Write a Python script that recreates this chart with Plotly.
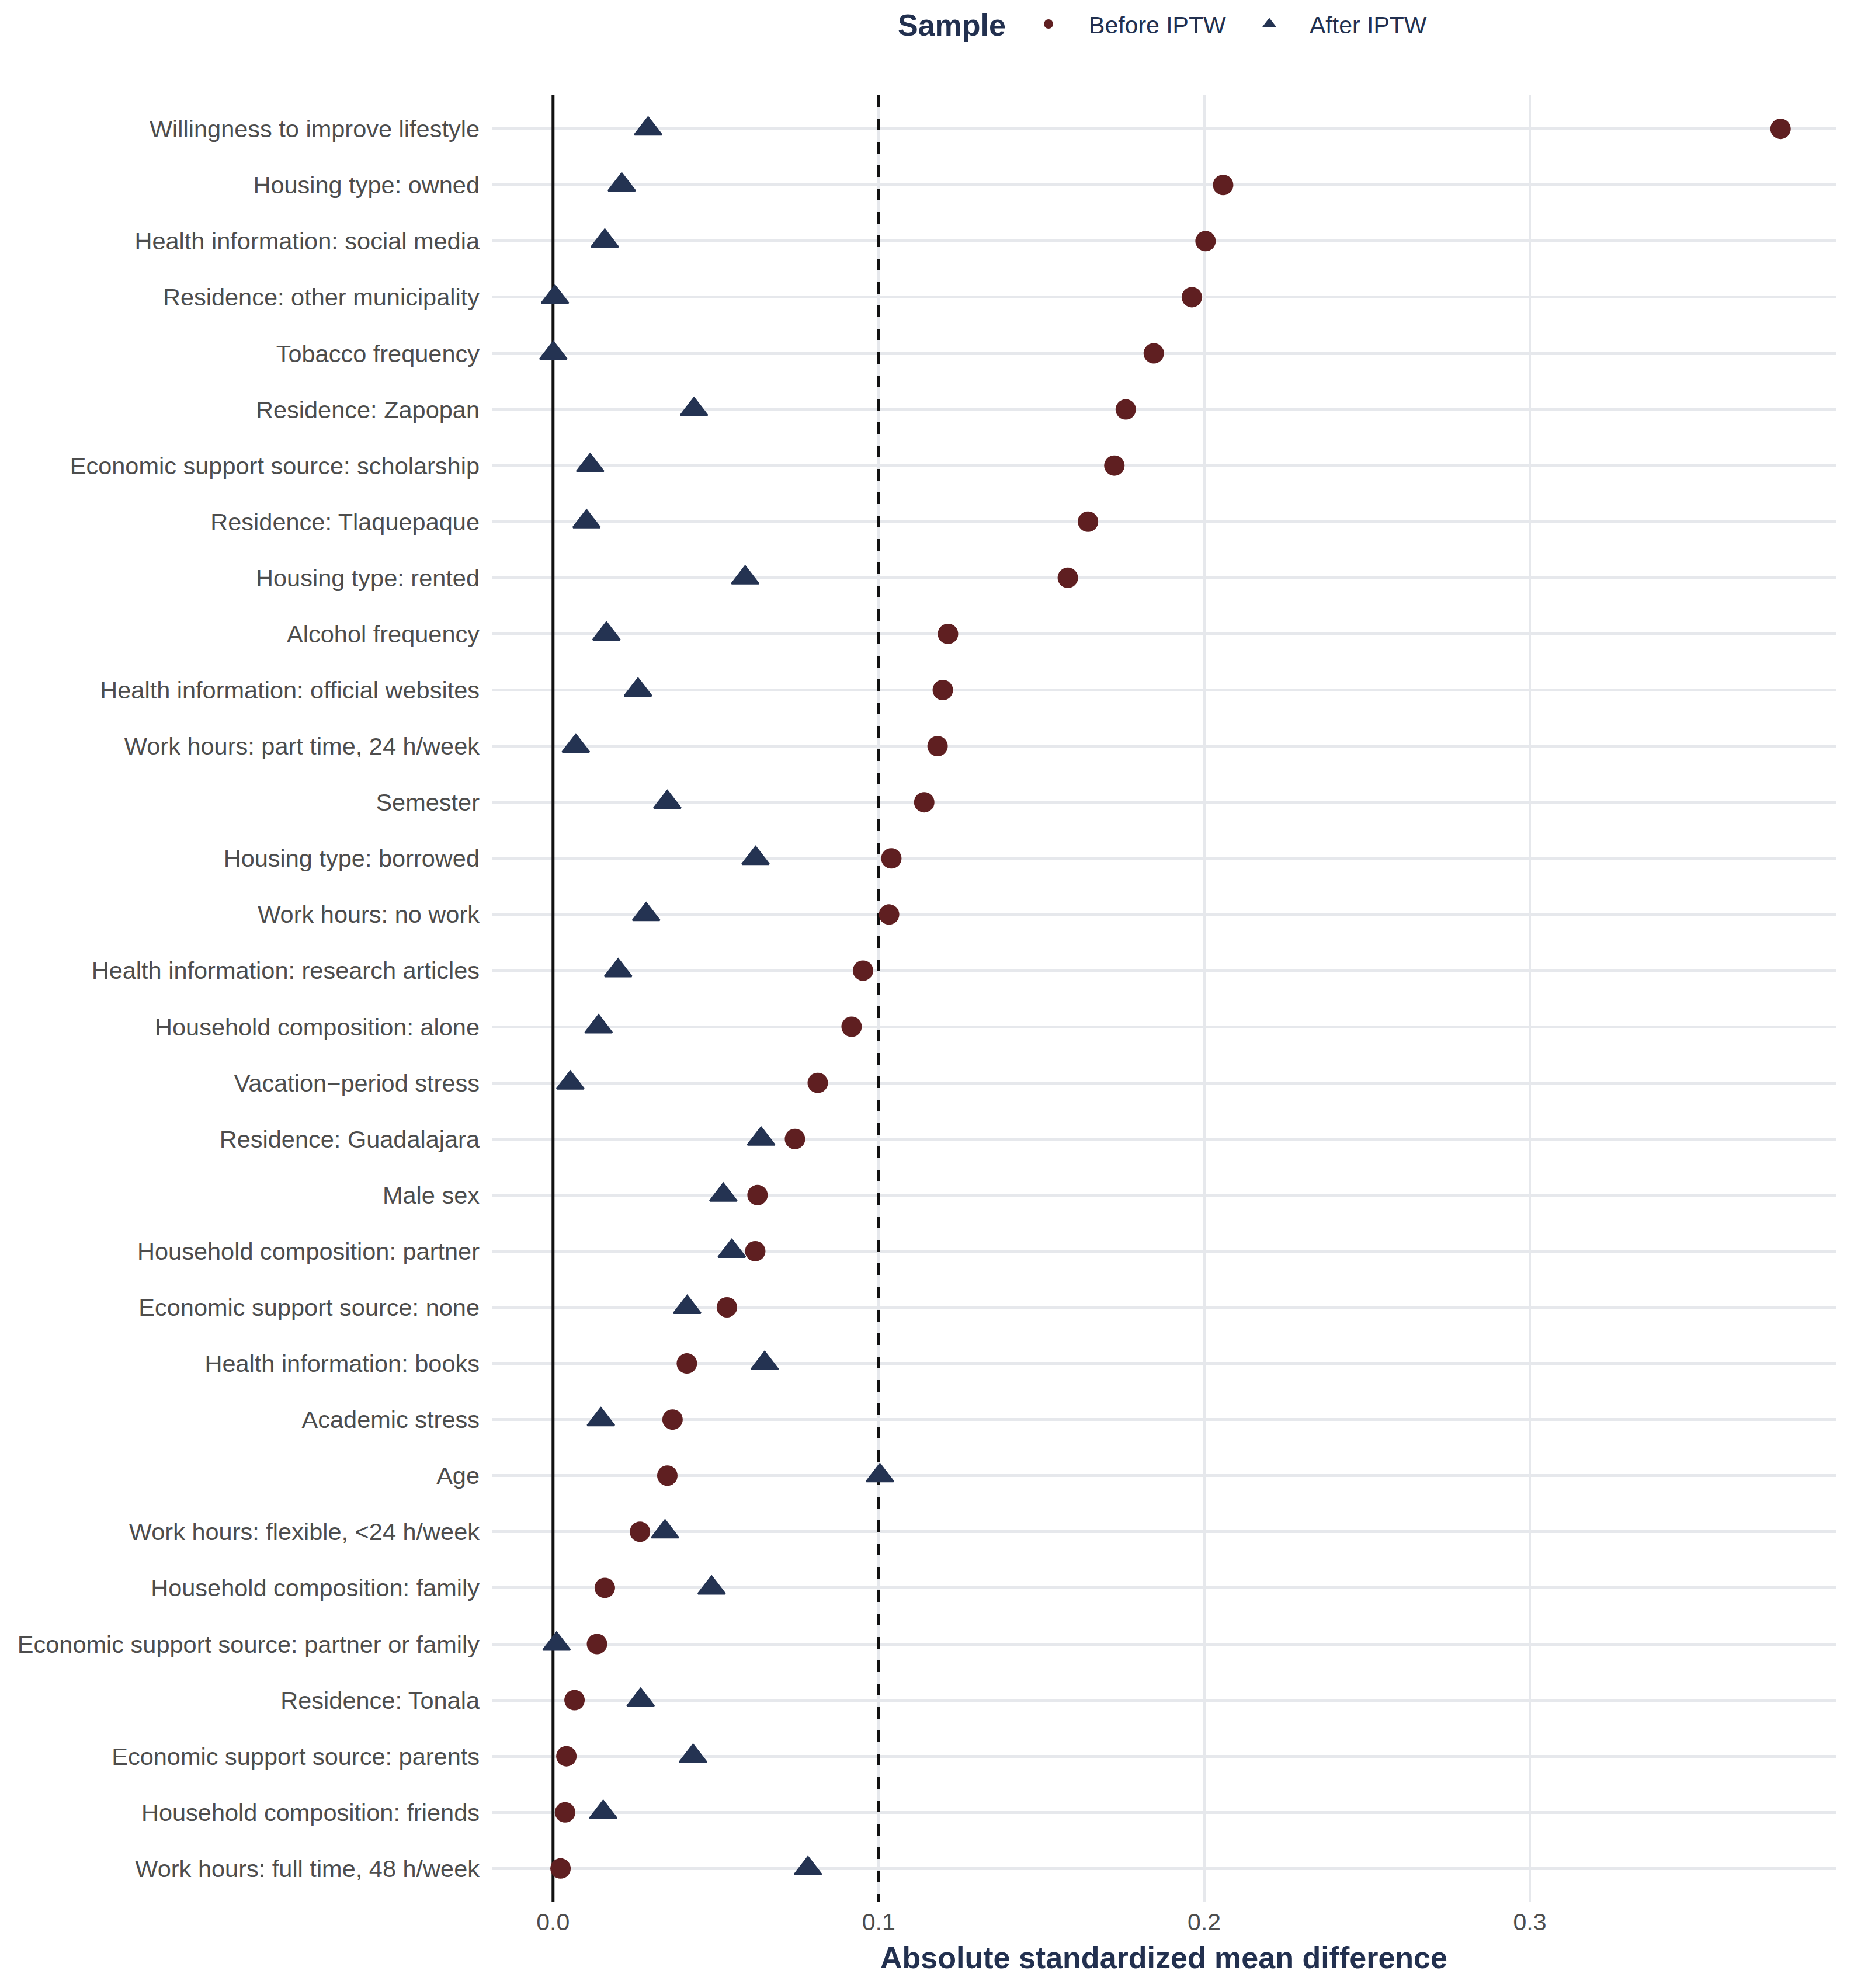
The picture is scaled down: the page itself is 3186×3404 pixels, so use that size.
import plotly.graph_objects as go

# Covariates, top to bottom
covariates = [
    "Willingness to improve lifestyle",
    "Housing type: owned",
    "Health information: social media",
    "Residence: other municipality",
    "Tobacco frequency",
    "Residence: Zapopan",
    "Economic support source: scholarship",
    "Residence: Tlaquepaque",
    "Housing type: rented",
    "Alcohol frequency",
    "Health information: official websites",
    "Work hours: part time, 24 h/week",
    "Semester",
    "Housing type: borrowed",
    "Work hours: no work",
    "Health information: research articles",
    "Household composition: alone",
    "Vacation\u2212period stress",
    "Residence: Guadalajara",
    "Male sex",
    "Household composition: partner",
    "Economic support source: none",
    "Health information: books",
    "Academic stress",
    "Age",
    "Work hours: flexible, <24 h/week",
    "Household composition: family",
    "Economic support source: partner or family",
    "Residence: Tonala",
    "Economic support source: parents",
    "Household composition: friends",
    "Work hours: full time, 48 h/week",
]

smd_before = [
    0.377, 0.2058, 0.2004, 0.1962, 0.1845, 0.1759, 0.1724, 0.1643,
    0.1581, 0.1213, 0.1197, 0.1181, 0.1140, 0.1039, 0.1032, 0.0952,
    0.0917, 0.0813, 0.0743, 0.0628, 0.0621, 0.0534, 0.0411, 0.0367,
    0.0351, 0.0267, 0.0159, 0.0135, 0.0066, 0.0041, 0.0037, 0.0023,
]

smd_after = [
    0.0292, 0.0211, 0.0159, 0.0006, 0.0001, 0.0433, 0.0114, 0.0103,
    0.0590, 0.0164, 0.0261, 0.0070, 0.0351, 0.0622, 0.0286, 0.0200,
    0.0140, 0.0053, 0.0639, 0.0523, 0.0549, 0.0412, 0.0650, 0.0147,
    0.1004, 0.0344, 0.0487, 0.0011, 0.0269, 0.0430, 0.0154, 0.0783,
]

x_ticks = [0.0, 0.1, 0.2, 0.3]
x_tick_labels = ["0.0", "0.1", "0.2", "0.3"]
threshold = 0.1

COL_BEFORE = "#5F1F21"
COL_AFTER = "#243352"
NAVY = "#22304F"
FONT = "Liberation Sans, Arial, sans-serif"

n = len(covariates)

fig = go.Figure()
fig.add_trace(go.Scatter(
    x=smd_before, y=covariates, mode="markers", name="Before IPTW",
    marker=dict(symbol="circle", size=35, color=COL_BEFORE, line=dict(width=0)),
))
fig.add_trace(go.Scatter(
    x=smd_after, y=covariates, mode="markers", name="After IPTW",
    marker=dict(symbol="triangle-up", size=40, color=COL_AFTER,
                line=dict(width=3, color=COL_AFTER)),
))

fig.add_shape(type="line", x0=0, x1=0, y0=-0.6, y1=n - 0.4, xref="x", yref="y",
              line=dict(color="#111111", width=5), layer="between")
fig.add_shape(type="line", x0=threshold, x1=threshold, y0=-0.6, y1=n - 0.4, xref="x", yref="y",
              line=dict(color="#111111", width=4.5, dash="20px,20px"), layer="between")

# Legend title ("Sample") placed to the left of the legend entries
fig.add_annotation(
    text="<b>Sample</b>", xref="paper", yref="paper", x=0.3833, y=1.0388,
    xanchor="right", yanchor="middle", showarrow=False,
    font=dict(size=52, color=NAVY, family=FONT),
)

fig.update_layout(
    width=3186, height=3404,
    margin=dict(l=842, r=43, t=163, b=147, autoexpand=False),
    paper_bgcolor="white", plot_bgcolor="white",
    font=dict(family=FONT, color="#4D4D4D", size=41),
    legend=dict(
        orientation="h", x=0.3842, xanchor="left", y=1.0393, yanchor="middle",
        font=dict(size=41, color=NAVY, family=FONT),
        itemsizing="trace", itemwidth=128, bgcolor="rgba(0,0,0,0)",
    ),
    xaxis=dict(
        range=[-0.0188, 0.394], tickmode="array", tickvals=x_ticks, ticktext=x_tick_labels,
        showgrid=True, gridcolor="#E6E8EC", gridwidth=4, zeroline=False,
        showline=False, ticks="", tickfont=dict(size=41, color="#4D4D4D"),
        ticklabelstandoff=6,
        title=dict(text="<b>Absolute standardized mean difference</b>",
                   font=dict(size=52, color=NAVY, family=FONT), standoff=20),
        automargin=False,
    ),
    yaxis=dict(
        type="category", categoryorder="array", categoryarray=covariates,
        range=[n - 0.4, -0.6],
        showgrid=True, gridcolor="#E6E8EC", gridwidth=5, zeroline=False,
        showline=False, ticks="", tickfont=dict(size=41.5, color="#4D4D4D"),
        ticklabelstandoff=20, automargin=False,
    ),
)

fig.write_html("out.html")
